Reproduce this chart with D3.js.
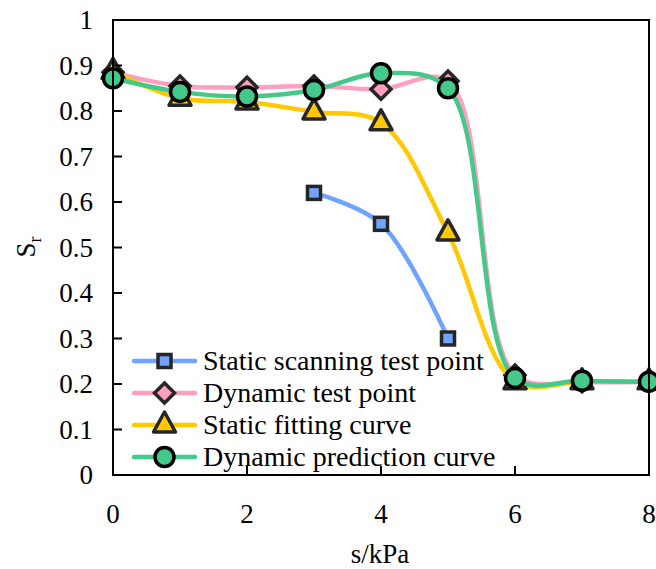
<!DOCTYPE html>
<html>
<head>
<meta charset="utf-8">
<script src="https://cdn.jsdelivr.net/npm/d3@7"></script>
</head>
<body style="margin:0">
<script>
// data
const suction = [0, 1, 2, 3, 4, 5, 6, 7, 8];
const staticScanX = [3, 4, 5];
const staticScan = [0.62, 0.552, 0.30];
const dynamicTest = [0.885, 0.855, 0.852, 0.855, 0.848, 0.866, 0.22, 0.205, 0.205];
const staticFit = [0.887, 0.828, 0.82, 0.798, 0.774, 0.532, 0.205, 0.205, 0.205];
const dynamicPred = [0.872, 0.842, 0.832, 0.846, 0.883, 0.85, 0.213, 0.207, 0.205];

const seriesNames = ['Static scanning test point', 'Dynamic test point', 'Static fitting curve', 'Dynamic prediction curve'];
const xTicks = [0, 2, 4, 6, 8];
const yTicks = d3.range(0, 11).map(d => d / 10);

const W = 656, H = 569;
const M = { left: 113, right: 649, top: 20, bottom: 475 };
const FONT = '"Times New Roman", "Liberation Serif", serif';

const x = d3.scaleLinear().domain([0, 8]).range([M.left, M.right]);
const y = d3.scaleLinear().domain([0, 1]).range([M.bottom, M.top]);

const svg = d3.select('body').append('svg')
  .attr('width', W)
  .attr('height', H)
  .style('font-family', FONT, 'important');

const series = [
  { name: seriesNames[0], xs: staticScanX, ys: staticScan, color: '#6fa3ff', shape: 'square' },
  { name: seriesNames[1], xs: suction, ys: dynamicTest, color: '#ff9fc0', shape: 'diamond' },
  { name: seriesNames[2], xs: suction, ys: staticFit, color: '#ffc800', shape: 'triangle' },
  { name: seriesNames[3], xs: suction, ys: dynamicPred, color: '#45c98a', shape: 'circle' }
];

const MARK_STROKE = '#262626';

function label(parent, size) {
  return parent.append('text')
    .attr('font-size', size)
    .style('font-family', FONT, 'important');
}

function drawMarker(g, shape, cx, cy, fill) {
  if (shape === 'circle') {
    g.append('circle').attr('cx', cx).attr('cy', cy).attr('r', 9.5)
      .attr('fill', fill).attr('stroke', '#000').attr('stroke-width', 3.5);
  } else if (shape === 'square') {
    g.append('rect').attr('x', cx - 6.5).attr('y', cy - 6.5).attr('width', 13).attr('height', 13)
      .attr('fill', fill).attr('stroke', MARK_STROKE).attr('stroke-width', 3.5);
  } else if (shape === 'diamond') {
    g.append('path')
      .attr('d', `M${cx},${cy - 10}L${cx + 10},${cy}L${cx},${cy + 10}L${cx - 10},${cy}Z`)
      .attr('fill', fill).attr('stroke', MARK_STROKE).attr('stroke-width', 3.5);
  } else {
    g.append('path')
      .attr('d', `M${cx},${cy - 13}L${cx + 11},${cy + 7}L${cx - 11},${cy + 7}Z`)
      .attr('fill', fill).attr('stroke', MARK_STROKE).attr('stroke-width', 3.5)
      .attr('stroke-linejoin', 'round');
  }
}

const line = d3.line()
  .x(d => x(d[0]))
  .y(d => y(d[1]))
  .curve(d3.curveCatmullRom.alpha(0.5));

// each series: curve then its markers
series.forEach(s => {
  const pts = s.xs.map((v, i) => [v, s.ys[i]]);
  const g = svg.append('g');
  g.append('path')
    .attr('d', line(pts))
    .attr('fill', 'none')
    .attr('stroke', s.color)
    .attr('stroke-width', 4.5);
  pts.forEach(p => drawMarker(g, s.shape, x(p[0]), y(p[1]), s.color));
});

// frame
svg.append('rect')
  .attr('x', M.left).attr('y', M.top)
  .attr('width', M.right - M.left).attr('height', M.bottom - M.top)
  .attr('fill', 'none').attr('stroke', '#000').attr('stroke-width', 2);

// y ticks (inward) + labels
yTicks.forEach(t => {
  svg.append('line')
    .attr('x1', M.left).attr('x2', M.left + 9)
    .attr('y1', y(t)).attr('y2', y(t))
    .attr('stroke', '#000').attr('stroke-width', 2);
  label(svg, 27)
    .attr('x', 93).attr('y', y(t) + 9)
    .attr('text-anchor', 'end')
    .text(t === 0 ? '0' : t === 1 ? '1' : d3.format('.1f')(t));
});

// x ticks (inward) + labels
xTicks.forEach(t => {
  svg.append('line')
    .attr('x1', x(t)).attr('x2', x(t))
    .attr('y1', M.bottom).attr('y2', M.bottom - 9)
    .attr('stroke', '#000').attr('stroke-width', 2);
  label(svg, 27)
    .attr('x', x(t)).attr('y', 523)
    .attr('text-anchor', 'middle')
    .text(t);
});

// axis titles
label(svg, 27)
  .attr('x', 380).attr('y', 563)
  .attr('text-anchor', 'middle')
  .text('s/kPa');

const yl = label(svg, 27)
  .attr('transform', 'translate(35,247) rotate(-90)')
  .attr('text-anchor', 'middle');
yl.append('tspan').text('S');
yl.append('tspan').attr('dy', 6).attr('font-size', 18).text('r');

// legend
series.forEach((s, i) => {
  const ly = 361 + i * 32;
  svg.append('line')
    .attr('x1', 134).attr('x2', 195)
    .attr('y1', ly).attr('y2', ly)
    .attr('stroke', s.color).attr('stroke-width', 4.5)
    .attr('stroke-linecap', 'round');
  drawMarker(svg, s.shape, 164.5, ly, s.color);
  label(svg, 28)
    .attr('x', 203).attr('y', ly + 9)
    .text(s.name);
});
</script>
</body>
</html>
